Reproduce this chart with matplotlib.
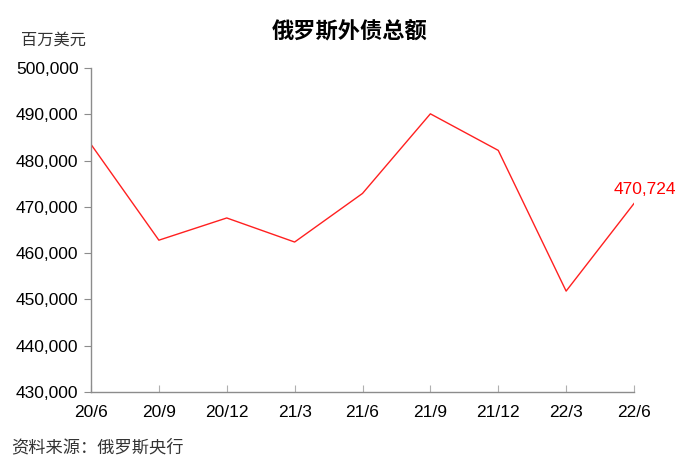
import matplotlib
matplotlib.use('Agg')
from matplotlib import pyplot as plt
from matplotlib.ticker import FuncFormatter

plt.rcParams['font.family'] = ['Liberation Sans', 'Noto Sans CJK SC', 'DejaVu Sans']

quarters = ['20/6', '20/9', '20/12', '21/3', '21/6', '21/9', '21/12', '22/3', '22/6']
debt = [483500, 462800, 467600, 462400, 472900, 490100, 482200, 451800, 470724]

fig = plt.figure(figsize=(6.78, 4.61), dpi=100)
ax = fig.add_axes([91 / 678, 1 - 392 / 461, 543 / 678, 324 / 461])

x = list(range(len(quarters)))
ax.plot(x, debt, color='#ff2020', lw=1.0)

ax.set_xlim(0, 8)
ax.set_ylim(430000, 500000)
ax.set_yticks(range(430000, 500001, 10000))
ax.yaxis.set_major_formatter(FuncFormatter(lambda v, p: f'{int(v):,}'))
ax.set_xticks(x)
ax.set_xticklabels(quarters)

for s in ['top', 'right']:
    ax.spines[s].set_visible(False)
for s in ['left', 'bottom']:
    ax.spines[s].set_color('#8c8c8c')
    ax.spines[s].set_linewidth(1.0)
ax.tick_params(axis='y', direction='out', length=5, color='#8c8c8c', labelsize=12.5, pad=4)
ax.tick_params(axis='x', direction='in', length=5, color='#b0b0b0', labelsize=12.5, pad=9)

ax.annotate(f'{debt[-1]:,}', (x[-1], debt[-1]), xytext=(7.5, 10), textcoords='offset points',
            ha='center', va='center', color='#ff0000', fontsize=12.5)

fig.text(350 / 678, 1 - 31 / 461, '俄罗斯外债总额', ha='center', va='center',
         fontsize=16, fontweight='bold', family=['Noto Sans CJK SC'])
fig.text(54 / 678, 1 - 40 / 461, '百万美元', ha='center', va='center',
         fontsize=11.7, color='#333333', family=['Noto Sans CJK SC'])
fig.text(11 / 678, 1 - 447 / 461, '资料来源：俄罗斯央行', ha='left', va='center',
         fontsize=12.4, color='#333333', family=['Noto Sans CJK SC'])

fig.savefig('out.png', dpi=100, facecolor='white')
